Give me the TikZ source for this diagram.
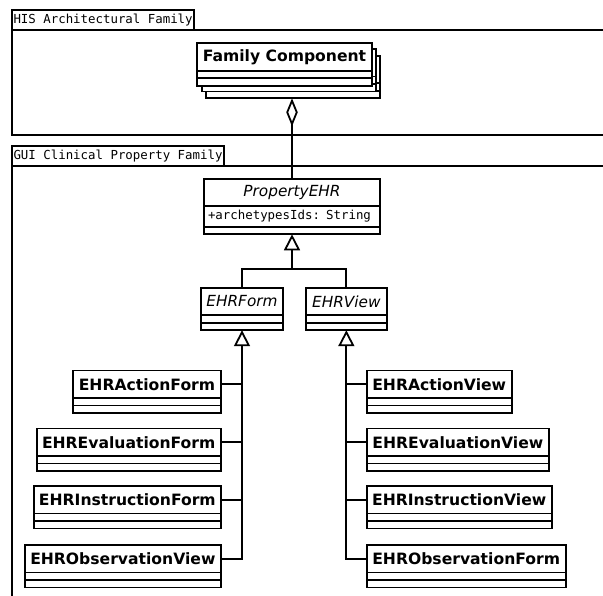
\documentclass[tikz,border=0pt]{standalone}
\usepackage{fontspec}
\setmainfont{DejaVu Sans}
\newfontfamily\umlmono{DejaVu Sans Mono}
\usetikzlibrary{arrows.meta,calc}

\tikzset{
  conn/.style={line width=1.8pt},
  classhead/.style={draw, fill=white, line width=1.8pt, rectangle, inner sep=0pt,
    outer sep=0pt, minimum height=27.5pt, font=\fontsize{15.6}{18}\selectfont\bfseries},
  abstracthead/.style={classhead, font=\fontsize{15.3}{18}\selectfont\itshape},
  classbody/.style={draw, fill=white, line width=1.8pt, rectangle, inner sep=0pt,
    outer sep=0pt, minimum height=15pt},
  attrbox/.style={draw, fill=white, line width=1.8pt, rectangle, inner xsep=4pt,
    inner ysep=0pt, outer sep=0pt, align=left, font=\fontsize{12.4}{14}\umlmono},
  frametab/.style={draw, fill=white, line width=2pt, rectangle, inner xsep=1.8pt,
    inner ysep=0pt, outer sep=0pt, minimum height=20pt, anchor=north west,
    font=\fontsize{12.4}{14}\umlmono},
  packframe/.style={draw, line width=2pt, rectangle, inner sep=0pt, outer sep=0pt,
    anchor=north west},
  gen/.style={conn, -{Triangle[open, length=16pt, width=16pt]}},
  aggr/.style={conn, -{Diamond[open, length=28pt, width=11.5pt]}},
}

% class box: name header plus two empty compartments
\newcommand{\umlclass}[5][classhead]{%
  \node[#1, minimum width=#4pt, anchor=north west] (#2) at (#3) {#5};
  \node[classbody, minimum width=#4pt, anchor=north west] (#2-b) at (#2.south west) {};
  \draw[conn] (#2-b.west) -- (#2-b.east);
}

\begin{document}
\begin{tikzpicture}[x=1pt, y=-1pt]
  \clip (0,0) rectangle (603,595);
  \fill[white] (0,0) rectangle (603,595);

  % package frames with their name tabs
  \node[packframe, minimum width=620pt, minimum height=104.5pt] (hisframe) at (11.7,30) {};
  \node[frametab] (histab) at (11.7,10) {HIS Architectural Family};
  \node[packframe, minimum width=620pt, minimum height=460pt] (guiframe) at (11.7,166) {};
  \node[frametab] (guitab) at (11.7,146) {GUI Clinical Property Family};

  % stacked family component
  \umlclass{fcs2}{205.9,55.8}{174.4}{}
  \umlclass{fcs1}{201.6,49.0}{174.4}{}
  \umlclass{fc}{197.3,43.3}{174.4}{Family Component}

  % abstract base class with its attribute
  \node[abstracthead, minimum width=176pt, minimum height=27pt, anchor=north west]
    (prop) at (204,179.3) {PropertyEHR};
  \node[attrbox, text width=168pt, minimum height=20.5pt, anchor=north west]
    (prop-a) at (prop.south west) {+archetypesIds: String};
  \node[classbody, minimum width=176pt, minimum height=7.5pt, anchor=north west]
    (prop-b) at (prop-a.south west) {};

  \umlclass[abstracthead]{form}{200.7,287.7}{82.6}{EHRForm}
  \umlclass[abstracthead]{view}{306,287.7}{80.7}{EHRView}

  % concrete form classes
  \umlclass{actf}{73.3,370.5}{147.4}{EHRActionForm}
  \umlclass{evaf}{36.7,428.5}{184}{EHREvaluationForm}
  \umlclass{insf}{34,486}{186.7}{EHRInstructionForm}
  \umlclass{obsv}{25,545}{195.7}{EHRObservationView}

  % concrete view classes
  \umlclass{actv}{366.7,370.5}{145}{EHRActionView}
  \umlclass{evav}{366.7,428.5}{182.3}{EHREvaluationView}
  \umlclass{insv}{366.7,486}{185}{EHRInstructionView}
  \umlclass{obsf}{366.7,545}{199}{EHRObservationForm}

  % aggregation towards the family component
  \draw[aggr] (prop.north) -- (prop.north |- fcs2-b.south);

  % generalisation of EHRForm and EHRView
  \coordinate (j0) at ($(prop-b.south)+(0,34.3)$);
  \draw[gen] (j0) -- (prop-b.south);
  \draw[conn] (form.north) |- (j0) -| (view.north);

  % generalisation of the concrete forms
  \coordinate (lf) at ($(form-b.south)+(0,18)$);
  \draw[gen] (lf) -- (form-b.south);
  \draw[conn] (lf) |- (obsv.east);
  \draw[conn] (actf.east) -- (actf.east -| lf);
  \draw[conn] (evaf.east) -- (evaf.east -| lf);
  \draw[conn] (insf.east) -- (insf.east -| lf);

  % generalisation of the concrete views
  \coordinate (rf) at ($(view-b.south)+(0,18)$);
  \draw[gen] (rf) -- (view-b.south);
  \draw[conn] (rf) |- (obsf.west);
  \draw[conn] (actv.west) -- (actv.west -| rf);
  \draw[conn] (evav.west) -- (evav.west -| rf);
  \draw[conn] (insv.west) -- (insv.west -| rf);
\end{tikzpicture}
\end{document}
